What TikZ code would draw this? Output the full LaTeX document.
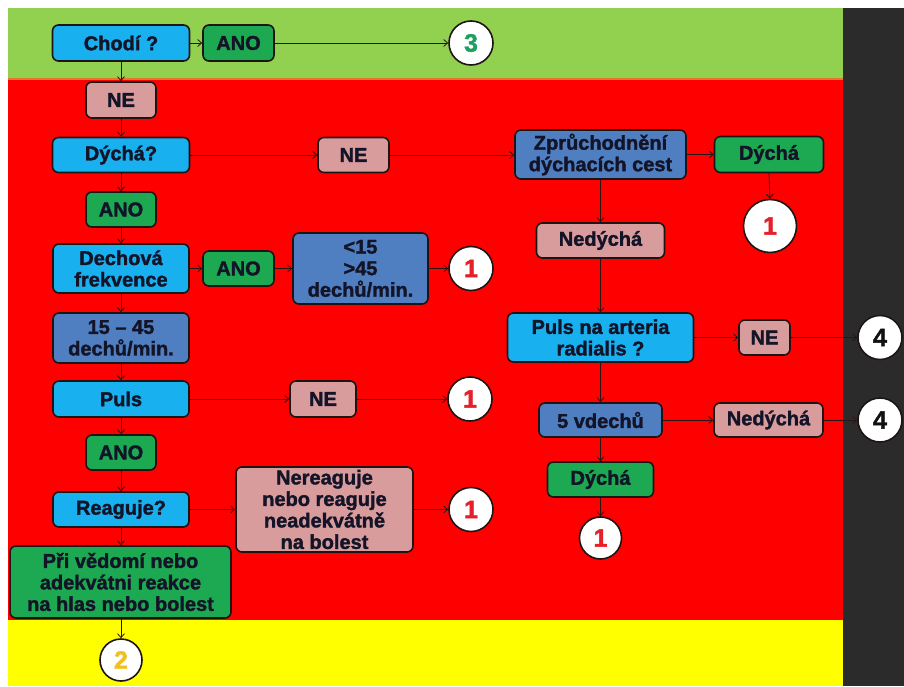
\documentclass[tikz,border=0pt]{standalone}
\usepackage{fontspec}
\setmainfont{Liberation Sans}
\newfontfamily\heavyfont[FakeBold=1.6]{Liberation Sans Bold}
\usetikzlibrary{arrows.meta}

\definecolor{bandgreen}{HTML}{92D050}
\definecolor{bandred}{HTML}{FF0000}
\definecolor{bandyellow}{HTML}{FFFF00}
\definecolor{banddark}{HTML}{2B2B2B}
\definecolor{bandedge}{HTML}{E0782A}
\definecolor{qblue}{HTML}{18B0EE}
\definecolor{sblue}{HTML}{4F7FC0}
\definecolor{okgreen}{HTML}{1DA852}
\definecolor{nopink}{HTML}{D89C9C}
\definecolor{outline}{HTML}{1E1414}
\definecolor{txt}{HTML}{141428}
\definecolor{wire}{HTML}{2A1414}
\definecolor{numred}{HTML}{E4202A}
\definecolor{numgreen}{HTML}{1FA060}
\definecolor{numgold}{HTML}{F0C020}
\definecolor{numblack}{HTML}{111111}

\newcommand\lbl{\heavyfont\fontsize{20}{21.5}\selectfont}
\newcommand\numfont{\heavyfont\fontsize{25}{25}\selectfont}

\tikzset{
  box/.style={draw=outline, line width=1.6pt, rounded corners=6pt, inner sep=0pt,
    align=center, font=\lbl, text=txt},
  qbox/.style={box, fill=qblue},
  sbox/.style={box, fill=sblue},
  gbox/.style={box, fill=okgreen},
  pbox/.style={box, fill=nopink},
  numc/.style={circle, draw=outline, line width=1.6pt, fill=white, inner sep=0pt,
    minimum size=#1, font=\numfont},
  numc/.default=44pt,
  link/.style={draw=wire, line width=0.8pt, -{Straight Barb[length=4pt,width=7pt]}},
}

\begin{document}
\begin{tikzpicture}[x=1pt,y=1pt]
  % background bands
  \fill[white] (0,0) rectangle (904,686);
  \fill[bandgreen] (8,607) rectangle (843,678);
  \fill[bandred] (8,66) rectangle (843,607);
  \fill[bandyellow] (8,0) rectangle (843,66);
  \draw[bandedge, line width=1.5pt] (8,607) -- (843,607);
  \fill[banddark] (843,0) rectangle (904,678);
  \useasboundingbox (0,0) rectangle (904,686);

  % left column
  \node[qbox, minimum width=137pt, minimum height=36pt] (chodi) at (121,643) {Chodí ?};
  \node[gbox, minimum width=71pt, minimum height=36pt] (ano1) at (238.5,643) {ANO};
  \node[numc, text=numgreen] (c3) at (471,643) {3};

  \node[pbox, minimum width=70pt, minimum height=36pt] (ne1) at (121,586) {NE};
  \node[qbox, minimum width=137pt, minimum height=35pt] (dycha) at (121,531) {Dýchá?};
  \node[pbox, minimum width=71pt, minimum height=35pt] (ne2) at (353.5,531) {NE};

  \node[gbox, minimum width=70pt, minimum height=35pt] (ano2) at (121,476.5) {ANO};
  \node[qbox, minimum width=136pt, minimum height=49pt] (dechova) at (121,417.5) {Dechová\\frekvence};
  \node[gbox, minimum width=71pt, minimum height=35pt] (ano3) at (238.5,417.5) {ANO};
  \node[sbox, minimum width=135pt, minimum height=71pt] (lt15) at (360.5,417.5) {<15\\>45\\dechů/min.};
  \node[numc, text=numred] (c1b) at (471,417.5) {1};

  \node[sbox, minimum width=136pt, minimum height=50pt] (r1545) at (121,348) {15 – 45\\dechů/min.};
  \node[qbox, minimum width=136pt, minimum height=36pt] (puls) at (121,287) {Puls};
  \node[pbox, minimum width=66pt, minimum height=36pt] (ne3) at (323,287) {NE};
  \node[numc, text=numred] (c1c) at (470,287) {1};

  \node[gbox, minimum width=70pt, minimum height=35pt] (ano4) at (121,233.5) {ANO};
  \node[qbox, minimum width=136pt, minimum height=35pt] (reaguje) at (121,176.5) {Reaguje?};
  \node[pbox, minimum width=177pt, minimum height=85pt] (nereag) at (324.5,176.5)
    {Nereaguje\\nebo reaguje\\neadekvátně\\na bolest};
  \node[numc, text=numred] (c1d) at (471,176.5) {1};

  \node[gbox, minimum width=221pt, minimum height=72pt] (pri) at (120.5,104)
    {Při vědomí nebo\\adekvátni reakce\\na hlas nebo bolest};
  \node[numc=42pt, text=numgold] (c2) at (121,26) {2};

  % right column
  \node[sbox, minimum width=171pt, minimum height=49pt] (zpr) at (600.5,531.5)
    {Zprůchodnění\\dýchacích cest};
  \node[gbox, minimum width=109pt, minimum height=36pt] (dycha2) at (769,531.5) {Dýchá};
  \node[numc=53pt, text=numred] (c1a) at (770,460) {1};

  \node[pbox, minimum width=128pt, minimum height=35pt] (nedycha1) at (600.5,445.5) {Nedýchá};
  \node[qbox, minimum width=186pt, minimum height=49pt] (parteria) at (600.5,348.5)
    {Puls na arteria\\radialis ?};
  \node[pbox, minimum width=51pt, minimum height=35pt] (ne4) at (764.5,348.5) {NE};
  \node[numc, text=numblack] (c4a) at (880,348.5) {4};

  \node[sbox, minimum width=123pt, minimum height=34pt] (vdechu) at (600.5,266) {5 vdechů};
  \node[pbox, minimum width=109pt, minimum height=34pt] (nedycha2) at (768.5,266) {Nedýchá};
  \node[numc, text=numblack] (c4b) at (880,266) {4};

  \node[gbox, minimum width=106pt, minimum height=35pt] (dycha3) at (600.5,206.5) {Dýchá};
  \node[numc=42pt, text=numred] (c1e) at (600.5,148) {1};

  % connectors
  \draw[link] (chodi) -- (ano1);
  \draw[link] (ano1) -- (c3);
  \draw[link] (chodi) -- (ne1);
  \draw[link] (ne1) -- (dycha);
  \draw[link] (dycha) -- (ne2);
  \draw[link] (ne2) -- (zpr.west |- ne2);
  \draw[link] (zpr.east |- dycha2) -- (dycha2);
  \draw[link] (dycha2.south) -- (c1a.north);
  \draw[link] (zpr) -- (nedycha1);
  \draw[link] (nedycha1) -- (parteria);
  \draw[link] (parteria) -- (ne4);
  \draw[link] (ne4) -- (c4a);
  \draw[link] (parteria) -- (vdechu);
  \draw[link] (vdechu) -- (nedycha2);
  \draw[link] (nedycha2) -- (c4b);
  \draw[link] (vdechu) -- (dycha3);
  \draw[link] (dycha3) -- (c1e);

  \draw[link] (dycha) -- (ano2);
  \draw[link] (ano2) -- (dechova);
  \draw[link] (dechova) -- (ano3);
  \draw[link] (ano3) -- (lt15);
  \draw[link] (lt15) -- (c1b);
  \draw[link] (dechova) -- (r1545);
  \draw[link] (r1545) -- (puls);
  \draw[link] (puls) -- (ne3);
  \draw[link] (ne3) -- (c1c);
  \draw[link] (puls) -- (ano4);
  \draw[link] (ano4) -- (reaguje);
  \draw[link] (reaguje) -- (nereag);
  \draw[link] (nereag) -- (c1d);
  \draw[link] (reaguje.south) -- (reaguje.south |- pri.north);
  \draw[link] (pri.south -| c2) -- (c2);
\end{tikzpicture}
\end{document}
